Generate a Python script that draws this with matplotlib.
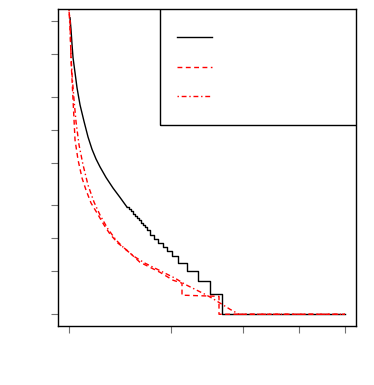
import numpy as np
import matplotlib
matplotlib.use("Agg")
import matplotlib.pyplot as plt
from matplotlib.patches import Rectangle
from matplotlib.lines import Line2D

# black curve: smooth head, then staircase
black_x = [0.0036, 0.0072, 0.0109, 0.0145, 0.0217, 0.029, 0.0399, 0.0543, 0.0688, 0.0833,
           0.0978, 0.1123, 0.1341, 0.1594, 0.1848, 0.2101, 0.2174, 0.2246, 0.2319, 0.2391,
           0.2464, 0.2536, 0.2609, 0.2681, 0.2754, 0.2826, 0.2935, 0.308, 0.3225, 0.3406,
           0.3551, 0.3732, 0.3949, 0.4275, 0.4674, 0.5109, 0.5543, 1.0]
black_y = [1.010, 0.969, 0.918, 0.874, 0.823, 0.771, 0.713, 0.657, 0.604, 0.562,
           0.529, 0.502, 0.466, 0.430, 0.398, 0.365, 0.358, 0.352, 0.343, 0.334,
           0.328, 0.321, 0.312, 0.304, 0.296, 0.287, 0.270, 0.256, 0.242, 0.229,
           0.215, 0.198, 0.174, 0.147, 0.113, 0.068, 0.0, 0.0]
n_smooth = 16  # points before the staircase starts

# red dashed curve
dash_x = [0.0, 0.0036, 0.0072, 0.0145, 0.0217, 0.0326, 0.0471, 0.0616, 0.0797, 0.1014,
          0.1268, 0.1486, 0.1775, 0.2101, 0.2572, 0.2935, 0.3297, 0.3768, 0.4094, 0.4094,
          0.5435, 0.5435, 1.0]
dash_y = [1.031, 1.003, 0.867, 0.730, 0.594, 0.526, 0.464, 0.423, 0.379, 0.345,
          0.304, 0.273, 0.242, 0.218, 0.177, 0.160, 0.143, 0.116, 0.106, 0.065,
          0.061, 0.0, 0.0]

# red dash-dot curve
dd_x = [0.0, 0.0036, 0.0072, 0.0109, 0.0181, 0.0254, 0.0362, 0.0507, 0.0688, 0.0906,
        0.1123, 0.1413, 0.1703, 0.2029, 0.2391, 0.2754, 0.3116, 0.3478, 0.3841, 0.4203,
        0.4565, 0.4928, 0.5181, 0.5543, 0.5833, 0.6159, 1.0]
dd_y = [1.038, 0.969, 0.884, 0.816, 0.730, 0.655, 0.577, 0.509, 0.440, 0.382,
        0.338, 0.290, 0.253, 0.222, 0.195, 0.174, 0.157, 0.140, 0.123, 0.102,
        0.085, 0.068, 0.055, 0.034, 0.017, 0.0, 0.0]

xticks = [0.0, 0.370, 0.630, 0.833, 1.0]
yticks = [0.0, 0.147, 0.259, 0.372, 0.515, 0.628, 0.741, 0.887, 1.0]

fig = plt.figure(figsize=(3.74, 3.85), dpi=100)
ax = fig.add_axes([58 / 374, 59 / 385, 298 / 374, 317 / 385])

lw = 1.0
ax.plot(black_x[:n_smooth], black_y[:n_smooth], color="black", lw=lw)
ax.plot(black_x[n_smooth - 1:], black_y[n_smooth - 1:], color="black", lw=lw,
        drawstyle="steps-post")
ax.plot(dash_x, dash_y, color="red", lw=lw, dashes=(3.5, 2.5))
ax.plot(dd_x, dd_y, color="red", lw=lw, dashes=(1, 2, 3.5, 2))

ax.set_xlim(-0.04, 1.04)
ax.set_ylim(-0.04, 1.04)
ax.set_xticks(xticks)
ax.set_yticks(yticks)
ax.set_xticklabels([])
ax.set_yticklabels([])
ax.tick_params(direction="out", length=5, width=0.8, color="0.45")
for s in ax.spines.values():
    s.set_linewidth(1.0)
    s.set_color("black")

# legend box (no text)
ax.add_patch(Rectangle((0.342, 0.634), 0.7, 0.5, transform=ax.transAxes,
                       fill=False, edgecolor="black", lw=1.0, clip_on=True))
lx = [0.399, 0.517]
ax.add_line(Line2D(lx, [0.912, 0.912], transform=ax.transAxes, color="black", lw=lw))
ax.add_line(Line2D(lx, [0.817, 0.817], transform=ax.transAxes, color="red", lw=lw,
                   dashes=(3.5, 2.5)))
ax.add_line(Line2D(lx, [0.726, 0.726], transform=ax.transAxes, color="red", lw=lw,
                   dashes=(1, 2, 3.5, 2)))

fig.savefig("out.png", dpi=100)
